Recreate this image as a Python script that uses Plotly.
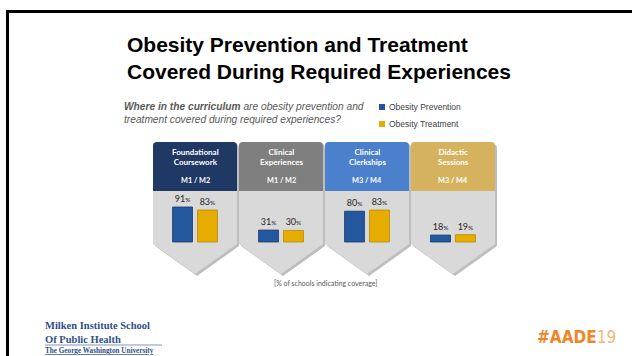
import plotly.graph_objects as go

W, H = 632, 356

# ---- data ----
categories = ["Foundational<br>Coursework", "Clinical<br>Experiences", "Clinical<br>Clerkships", "Didactic<br>Sessions"]
years = ["M1 / M2", "M1 / M2", "M3 / M4", "M3 / M4"]
prevention = [91, 31, 80, 18]
treatment = [83, 30, 83, 19]
header_colors = ["#1F3864", "#7F7F7F", "#4A80CC", "#D5B35E"]
series_names = ["Obesity Prevention", "Obesity Treatment"]
series_colors = ["#24589E", "#E6AC00"]
series_lines = ["#1B3A6B", "#B88A00"]


def px(x):
    return x / W


def py(y):
    return 1 - y / H


# card geometry (pixels)
card_left0, card_step, card_w = 153, 86, 84
card_top, head_bottom, side_bottom, tip_y = 142, 191, 244, 274
bar_base_px, px_per_pct = 242, 0.385

shapes = []
annotations = []


def card_path(L, R, top, bottom_side, tip, r=4, dx=0, dy=0):
    c = (L + R) / 2
    pts = [
        f"M {px(L+dx)},{py(top+r+dy)}",
        f"Q {px(L+dx)},{py(top+dy)} {px(L+r+dx)},{py(top+dy)}",
        f"L {px(R-r+dx)},{py(top+dy)}",
        f"Q {px(R+dx)},{py(top+dy)} {px(R+dx)},{py(top+r+dy)}",
        f"L {px(R+dx)},{py(bottom_side+dy)}",
        f"L {px(c+dx)},{py(tip+dy)}",
        f"L {px(L+dx)},{py(bottom_side+dy)}",
        "Z",
    ]
    return " ".join(pts)


def head_path(L, R, top, bottom, r=4):
    pts = [
        f"M {px(L)},{py(top+r)}",
        f"Q {px(L)},{py(top)} {px(L+r)},{py(top)}",
        f"L {px(R-r)},{py(top)}",
        f"Q {px(R)},{py(top)} {px(R)},{py(top+r)}",
        f"L {px(R)},{py(bottom)}",
        f"L {px(L)},{py(bottom)}",
        "Z",
    ]
    return " ".join(pts)


for i, cat in enumerate(categories):
    L = card_left0 + i * card_step
    R = L + card_w
    c = (L + R) / 2
    shapes.append(dict(type="path", xref="paper", yref="paper", layer="below",
                       path=card_path(L, R, card_top, side_bottom, tip_y, dx=2, dy=2),
                       fillcolor="#BEBEBE", line=dict(width=0)))
    shapes.append(dict(type="path", xref="paper", yref="paper", layer="below",
                       path=card_path(L, R, card_top, side_bottom, tip_y),
                       fillcolor="#D9D9D9", line=dict(width=0)))
    shapes.append(dict(type="path", xref="paper", yref="paper", layer="below",
                       path=head_path(L, R, card_top, head_bottom),
                       fillcolor=header_colors[i], line=dict(width=0)))
    annotations.append(dict(xref="paper", yref="paper", x=px(c), y=py(157.5), text=f"<b>{cat}</b>",
                            showarrow=False, xanchor="center", yanchor="middle",
                            font=dict(family="Lato", size=8, color="white"), align="center"))
    annotations.append(dict(xref="paper", yref="paper", x=px(c), y=py(180), text=f"<b>{years[i]}</b>",
                            showarrow=False, xanchor="center", yanchor="middle",
                            font=dict(family="Lato", size=7.3, color="white")))

# border lines
shapes.append(dict(type="line", xref="paper", yref="paper", x0=px(6), x1=1, y0=py(11.5), y1=py(11.5),
                   line=dict(color="black", width=3)))
shapes.append(dict(type="line", xref="paper", yref="paper", x0=px(7.5), x1=px(7.5), y0=py(10), y1=0,
                   line=dict(color="black", width=3)))
# milken separator line
shapes.append(dict(type="line", xref="paper", yref="paper", x0=px(45), x1=px(162), y0=py(345), y1=py(345),
                   line=dict(color="#7F93BF", width=1)))

# manual legend
for k, (name, col) in enumerate(zip(series_names, series_colors)):
    yc = 107 + 17 * k
    shapes.append(dict(type="rect", xref="paper", yref="paper",
                       x0=px(379), x1=px(385), y0=py(yc - 3), y1=py(yc + 3),
                       fillcolor=col, line=dict(width=0)))
    annotations.append(dict(xref="paper", yref="paper", x=px(387), y=py(yc), text=name,
                            showarrow=False, xanchor="left", yanchor="middle",
                            font=dict(family="Liberation Sans", size=8.5, color="#404040")))

# title
annotations.append(dict(xref="paper", yref="paper", x=px(125), y=py(58),
                        text="<b>Obesity Prevention and Treatment<br>Covered During Required Experiences</b>",
                        showarrow=False, xanchor="left", yanchor="middle", align="left",
                        font=dict(family="Liberation Sans", size=21, color="black")))
# subtitle
annotations.append(dict(xref="paper", yref="paper", x=px(122), y=py(113.5),
                        text="<b><i>Where in the curriculum</i></b><i> are obesity prevention and<br>treatment covered during required experiences?</i>",
                        showarrow=False, xanchor="left", yanchor="middle", align="left",
                        font=dict(family="Liberation Sans", size=10.2, color="#595959")))
# footnote
annotations.append(dict(xref="paper", yref="paper", x=px(325), y=py(283),
                        text="[% of schools indicating coverage]",
                        showarrow=False, xanchor="center", yanchor="middle",
                        font=dict(family="Lato", size=7, color="#595959")))
# Milken
annotations.append(dict(xref="paper", yref="paper", x=px(43), y=py(332),
                        text="<b>Milken Institute School<br>Of Public Health</b>",
                        showarrow=False, xanchor="left", yanchor="middle", align="left",
                        font=dict(family="Liberation Serif", size=10.5, color="#2F4F8C")))
annotations.append(dict(xref="paper", yref="paper", x=px(43), y=py(351),
                        text="<b><u>The George Washington University</u></b>",
                        showarrow=False, xanchor="left", yanchor="middle",
                        font=dict(family="Liberation Serif", size=7.2, color="#2F4F8C")))
# AADE19
annotations.append(dict(xref="paper", yref="paper", x=px(535), y=py(337),
                        text="<b>#AADE</b><span style='color:#F6B77A'>19</span>",
                        showarrow=False, xanchor="left", yanchor="middle",
                        font=dict(family="DejaVu Sans Condensed, Liberation Sans", size=17, color="#F08526")))

fig = go.Figure()
for name, vals, col, lc in zip(series_names, [prevention, treatment], series_colors, series_lines):
    fig.add_trace(go.Bar(
        x=categories, y=vals, name=name, showlegend=False,
        marker=dict(color=col, line=dict(color=lc, width=0.8)),
        text=vals, texttemplate="%{y}<span style='font-size:6.5px'>%</span>",
        textposition="outside", cliponaxis=False, constraintext="none",
        textfont=dict(family="Lato", size=9, color="#262626"),
        hoverinfo="skip",
    ))

y_lo = (bar_base_px - H) / px_per_pct
y_hi = bar_base_px / px_per_pct
x_left = card_left0 - 1
x_right = card_left0 + 3 * card_step + card_w + 1

fig.update_layout(
    width=W, height=H,
    margin=dict(l=0, r=0, t=0, b=0),
    paper_bgcolor="white", plot_bgcolor="rgba(0,0,0,0)",
    barmode="group", bargap=0.42, bargroupgap=0.2,
    xaxis=dict(domain=[x_left / W, x_right / W], range=[-0.5, 3.5], visible=False, fixedrange=True),
    yaxis=dict(domain=[0, 1], range=[y_lo, y_hi], visible=False, fixedrange=True),
    shapes=shapes, annotations=annotations,
    showlegend=False,
)

fig.write_html("out.html")
